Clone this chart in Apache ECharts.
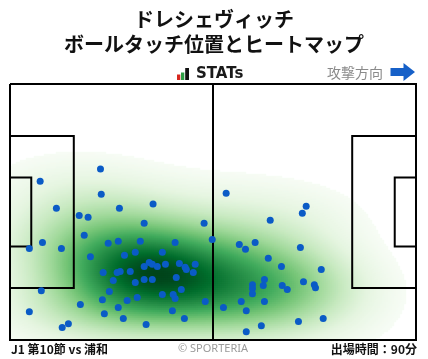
<!DOCTYPE html>
<html><head><meta charset="utf-8">
<script src="https://cdn.jsdelivr.net/npm/echarts@6/dist/echarts.min.js"></script>
<style>html,body{margin:0;padding:0;background:#fff;}#c{width:428px;height:359px;}</style>
</head><body><div id="c"></div>
<script>
// ---- texts ----
const playerName = 'ドレシェヴィッチ';
const chartTitle = 'ボールタッチ位置とヒートマップ';
const brandLabel = 'STATs';
const directionLabel = '攻撃方向';
const matchLabel = 'J1 第10節 vs 浦和';
const creditLabel = '© SPORTERIA';
const minutesLabel = '出場時間：90分';

// ---- ball touches (metres; x along attack direction 0-105, y from top touchline 0-68) ----
const touchX = [23.4,7.8,23.6,12.0,28.3,37.0,17.9,20.2,55.9,76.6,
  75.6,67.3,34.7,50.2,19.2,8.4,5.0,13.3,25.4,28.0,
  33.7,42.7,52.3,20.8,29.6,32.4,39.4,24.1,27.7,28.5,
  31.1,34.7,36.0,36.8,38.1,40.2,43.8,45.3,45.6,47.4,
  47.9,26.7,32.4,34.7,36.8,43.0,44.3,8.1,25.7,39.4,
  42.2,42.7,23.9,30.3,32.9,50.5,5.0,18.2,28.0,24.4,
  42.0,29.3,45.1,15.1,13.5,35.2,59.3,60.9,63.4,75.1,
  66.8,70.2,80.5,65.8,65.5,62.7,62.7,62.7,70.4,71.7,
  75.9,78.7,79.0,59.8,65.8,55.2,61.1,81.0,74.6,65.0,
  61.1];
const touchY = [22.6,25.8,29.3,33.0,33.0,31.9,34.9,35.4,29.0,32.5,
  34.3,36.2,37.0,37.0,40.2,42.1,43.7,43.7,42.3,41.8,
  41.8,42.1,41.3,45.9,45.5,44.7,44.7,50.1,50.1,49.8,
  49.8,48.5,47.4,47.9,48.5,47.9,47.7,48.7,49.3,50.1,
  47.9,52.2,52.7,51.9,51.9,51.4,54.6,54.9,55.1,55.9,
  55.9,57.0,57.3,57.5,56.7,57.8,60.5,58.6,59.4,61.0,
  60.2,62.3,62.3,63.7,64.7,63.9,42.6,43.9,42.1,43.4,
  46.3,48.5,49.3,51.9,53.5,53.3,54.3,55.7,53.5,54.6,
  52.5,53.3,54.1,57.8,57.8,59.4,60.2,62.3,63.1,64.2,
  65.8];

// ---- pitch dimensions (metres) ----
const PITCH_LENGTH = 105, PITCH_WIDTH = 68;
const BOX_DEPTH = 16.5, BOX_WIDTH = 40.32;
const SIX_DEPTH = 5.5, SIX_WIDTH = 18.32;

const GREENS = ['#f7fcf5','#e5f5e0','#c7e9c0','#a1d99b','#74c476','#41ab5d','#238b45','#006d2c','#00441b'];
const BW_ADJUST = 1.5;     // kernel bandwidth multiplier
const LOWEST_LEVEL = 0.02; // share of mass below the lowest drawn level

// ---- pitch line polylines ----
const L = PITCH_LENGTH, W = PITCH_WIDTH, cy = W / 2;
const pitchLines = [
  [[0,0],[L,0],[L,W],[0,W],[0,0]],
  [[L/2,0],[L/2,W]],
  [[0,cy-BOX_WIDTH/2],[BOX_DEPTH,cy-BOX_WIDTH/2],[BOX_DEPTH,cy+BOX_WIDTH/2],[0,cy+BOX_WIDTH/2]],
  [[0,cy-SIX_WIDTH/2],[SIX_DEPTH,cy-SIX_WIDTH/2],[SIX_DEPTH,cy+SIX_WIDTH/2],[0,cy+SIX_WIDTH/2]],
  [[L,cy-BOX_WIDTH/2],[L-BOX_DEPTH,cy-BOX_WIDTH/2],[L-BOX_DEPTH,cy+BOX_WIDTH/2],[L,cy+BOX_WIDTH/2]],
  [[L,cy-SIX_WIDTH/2],[L-SIX_DEPTH,cy-SIX_WIDTH/2],[L-SIX_DEPTH,cy+SIX_WIDTH/2],[L,cy+SIX_WIDTH/2]]
];

// ---- kernel density of the touches (Gaussian, Scott bandwidth, full covariance) ----
const NX = 203, NY = 128;
const n = touchX.length;
const mx = touchX.reduce((a,b)=>a+b,0)/n, my = touchY.reduce((a,b)=>a+b,0)/n;
let sxx=0, syy=0, sxy=0;
for (let k=0;k<n;k++){const dx=touchX[k]-mx, dy=touchY[k]-my; sxx+=dx*dx; syy+=dy*dy; sxy+=dx*dy;}
sxx/=(n-1); syy/=(n-1); sxy/=(n-1);
const fac = Math.pow(n, -1/6)*BW_ADJUST, f2 = fac*fac;
const cxx=sxx*f2, cyy=syy*f2, cxy=sxy*f2, det=cxx*cyy-cxy*cxy;
const ixx=cyy/det, iyy=cxx/det, ixy=-cxy/det;
const dens = [];
let dmax = 0;
for (let j=0;j<NY;j++){
  const gy=(j+0.5)*W/NY;
  for (let i=0;i<NX;i++){
    const gx=(i+0.5)*L/NX;
    let s=0;
    for (let k=0;k<n;k++){
      const dx=gx-touchX[k], dy=gy-touchY[k];
      s+=Math.exp(-0.5*(ixx*dx*dx+2*ixy*dx*dy+iyy*dy*dy));
    }
    dens.push([i,j,s]);
    if (s>dmax) dmax=s;
  }
}
const sorted = dens.map(d=>d[2]).sort((a,b)=>a-b);
const total = sorted.reduce((a,b)=>a+b,0);
let acc=0, thr=0;
for (const v of sorted){acc+=v; if(acc>=LOWEST_LEVEL*total){thr=v;break;}}
const heatData = dens.filter(d=>d[2]>=thr);

const chart = echarts.init(document.getElementById('c'), null, {renderer:'canvas'});
const gridBox = {left:10, top:84, width:406, height:256};
const catX = Array.from({length:NX},(_, i)=>i);
const catY = Array.from({length:NY},(_, j)=>j);
const jp = "'Noto Sans CJK JP', sans-serif";

chart.setOption({
  animation:false,
  backgroundColor:'#ffffff',
  grid:[Object.assign({}, gridBox), Object.assign({}, gridBox)],
  xAxis:[
    {gridIndex:0, type:'category', data:catX, show:false},
    {gridIndex:1, type:'value', min:0, max:PITCH_LENGTH, show:false}
  ],
  yAxis:[
    {gridIndex:0, type:'category', data:catY, inverse:true, show:false},
    {gridIndex:1, type:'value', min:0, max:PITCH_WIDTH, inverse:true, show:false}
  ],
  visualMap:{show:false, type:'continuous', seriesIndex:0, dimension:2, min:thr, max:dmax,
    inRange:{color:GREENS}, outOfRange:{color:'rgba(255,255,255,0)'}},
  series:[
    {type:'heatmap', xAxisIndex:0, yAxisIndex:0, data:heatData, progressive:0, z:1,
     itemStyle:{borderWidth:0}, emphasis:{disabled:true}},
    {type:'lines', coordinateSystem:'cartesian2d', xAxisIndex:1, yAxisIndex:1, polyline:true, z:3,
     lineStyle:{color:'#000', width:2, opacity:1}, silent:true,
     data:pitchLines.map(c=>({coords:c}))},
    {type:'scatter', xAxisIndex:1, yAxisIndex:1, z:4, symbolSize:7,
     itemStyle:{color:'#0a5bc6', opacity:1},
     data:touchX.map((x,k)=>[x,touchY[k]])}
  ],
  graphic:[
    {type:'text', left:'center', top:9, style:{text:playerName, font:"bold 20px "+jp, fill:'#111'}},
    {type:'text', left:'center', top:34, style:{text:chartTitle, font:"bold 20px "+jp, fill:'#111'}},
    {type:'rect', shape:{x:177,y:74.5,width:3.3,height:5.5}, style:{fill:'#d7261e'}},
    {type:'rect', shape:{x:181,y:72.5,width:3.3,height:7.5}, style:{fill:'#2e9e46'}},
    {type:'rect', shape:{x:185.2,y:68,width:3.8,height:12}, style:{fill:'#111'}},
    {type:'text', x:196, y:74.5, style:{text:brandLabel, font:"bold 15px 'DejaVu Sans', sans-serif", fill:'#1a1a1a', textVerticalAlign:'middle'}},
    {type:'text', x:327, y:73, style:{text:directionLabel, font:"14px "+jp, fill:'#8a8a8a', textVerticalAlign:'middle'}},
    {type:'polygon', shape:{points:[[390.5,68],[403.5,68],[403.5,63],[415,72],[403.5,81],[403.5,76],[390.5,76]]}, style:{fill:'#1660c8'}},
    {type:'text', x:11, y:349, style:{text:matchLabel, font:"bold 12px "+jp, fill:'#111', textVerticalAlign:'middle'}},
    {type:'text', x:213, y:348.5, style:{text:creditLabel, font:"11px 'Noto Sans', sans-serif", fill:'#9a9a9a', textAlign:'center', textVerticalAlign:'middle'}},
    {type:'text', x:417, y:349, style:{text:minutesLabel, font:"bold 12px "+jp, fill:'#111', textAlign:'right', textVerticalAlign:'middle'}}
  ]
});
</script></body></html>
